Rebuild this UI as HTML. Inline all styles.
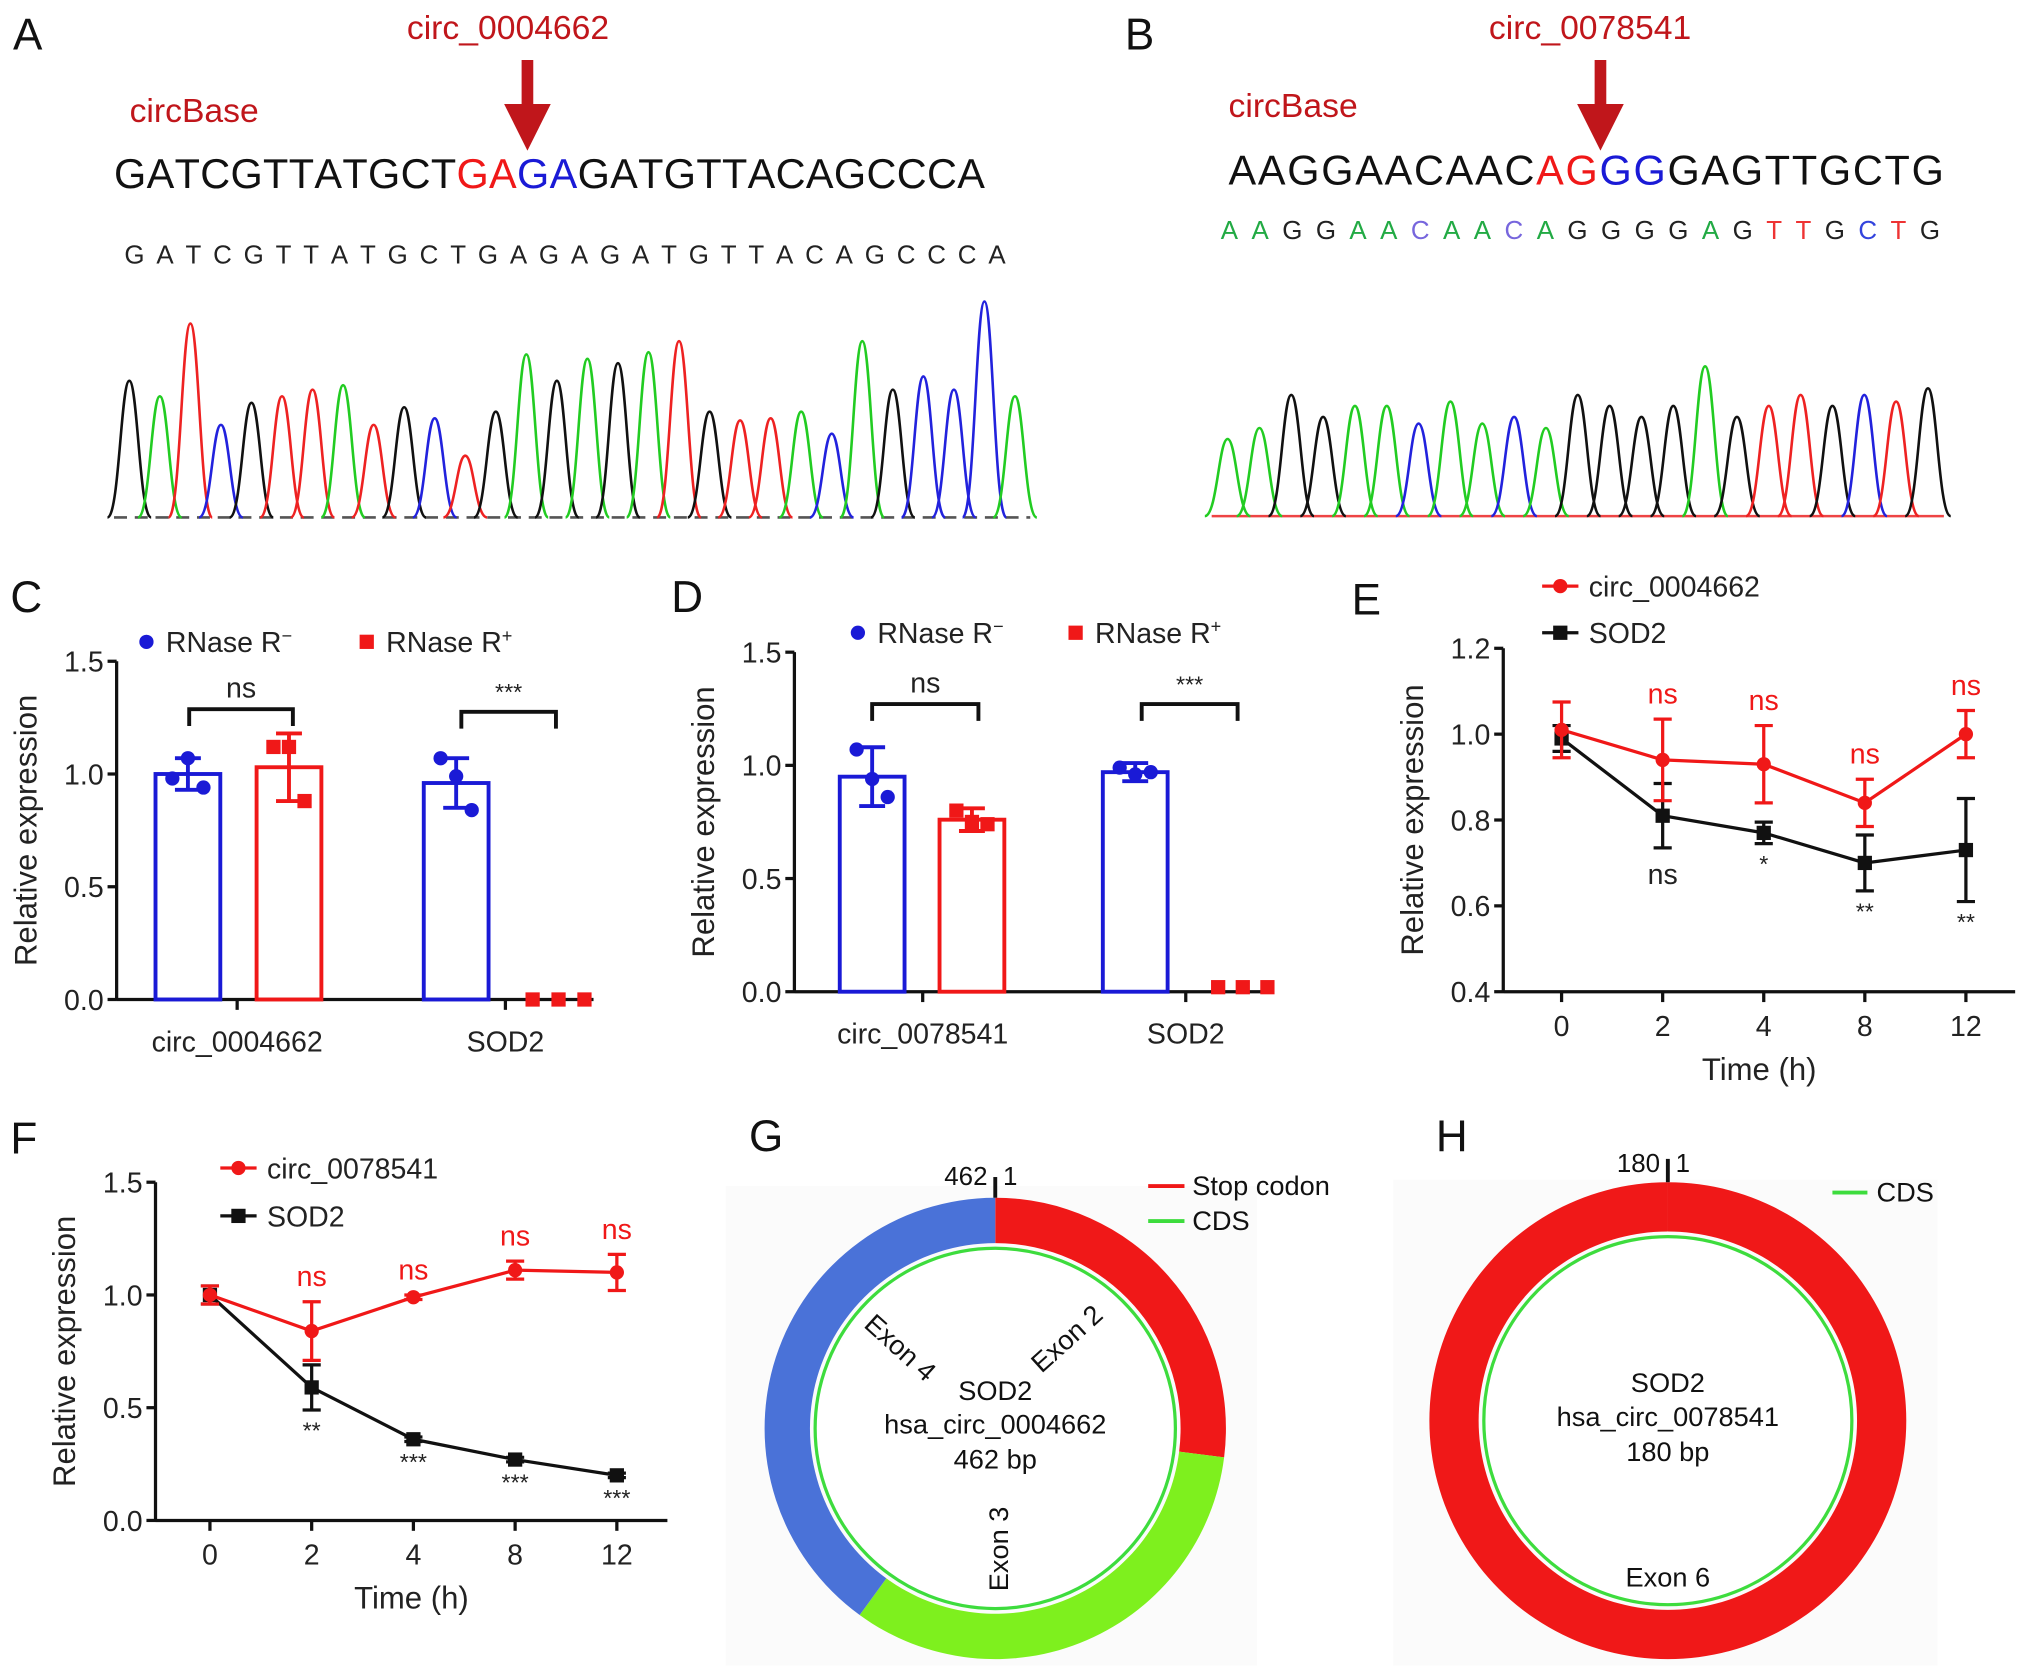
<!DOCTYPE html>
<html><head><meta charset="utf-8"><style>
html,body{margin:0;padding:0;background:#fff}
svg{display:block;font-family:"Liberation Sans",Arial,sans-serif}
</style></head><body>
<svg id="fig" width="2032" height="1675" viewBox="0 0 1568 1292" xmlns="http://www.w3.org/2000/svg">
<defs><marker id="ah" markerWidth="4" markerHeight="4" refX="2" refY="2" orient="auto"><path d="M0,0 L4,2 L0,4 Z" fill="#c0161b"/></marker></defs>
<g id="root"></g>
</svg>
<script>
// ---------- data ----------
const seqA = "GATCGTTATGCTGAGAGATGTTACAGCCCA";
const peakA = [0.62,0.55,0.88,0.42,0.52,0.55,0.58,0.6,0.42,0.5,0.45,0.28,0.48,0.74,0.62,0.72,0.7,0.75,0.8,0.48,0.44,0.45,0.48,0.38,0.8,0.58,0.64,0.58,0.98,0.55];
const seqB = "AAGGAACAACAGGGGAGTTGCTG";
const peakB = [0.35,0.4,0.55,0.45,0.5,0.5,0.42,0.52,0.42,0.45,0.4,0.55,0.5,0.45,0.5,0.68,0.45,0.5,0.55,0.5,0.55,0.52,0.58];

const catsC = ["circ_0004662","SOD2"];
const cMinus = [1.0,0.96];
const cMinusSd = [0.07,0.11];
const cMinusPts = [[0.98,1.07,0.94],[1.07,0.99,0.84]];
const cPlus = [1.03,0.0];
const cPlusSd = [0.15,0.0];
const cPlusPts = [[1.12,1.12,0.88],[0,0,0]];

const catsD = ["circ_0078541","SOD2"];
const dMinus = [0.95,0.97];
const dMinusSd = [0.13,0.04];
const dMinusPts = [[1.07,0.94,0.86],[0.99,0.96,0.97]];
const dPlus = [0.76,0.02];
const dPlusSd = [0.05,0.0];
const dPlusPts = [[0.8,0.75,0.74],[0.02,0.02,0.02]];

const timeLabels = ["0","2","4","8","12"];
const eCirc = [1.01,0.94,0.93,0.84,1.0];
const eCircSd = [0.065,0.095,0.09,0.055,0.055];
const eSod = [0.99,0.81,0.77,0.70,0.73];
const eSodSd = [0.03,0.075,0.025,0.065,0.12];
const eCircSig = ["","ns","ns","ns","ns"];
const eSodSig = ["","ns","*","**","**"];

const fCirc = [1.0,0.84,0.99,1.11,1.10];
const fCircSd = [0.04,0.13,0.01,0.04,0.08];
const fSod = [1.0,0.59,0.36,0.27,0.20];
const fSodSd = [0.04,0.1,0.01,0.01,0.01];
const fCircSig = ["","ns","ns","ns","ns"];
const fSodSig = ["","**","***","***","***"];

const gSegs = [0.27,0.33,0.40]; // red, green, blue fractions
// ---------- helpers ----------
const NS="http://www.w3.org/2000/svg";
const root=document.getElementById('root');
function el(tag,attrs,parent,txt){const e=document.createElementNS(NS,tag);for(const k in attrs)e.setAttribute(k,attrs[k]);if(txt!==undefined)e.textContent=txt;(parent||root).appendChild(e);return e;}
function txt(x,y,s,size,fill,anchor,parent,extra){const t=el('text',Object.assign({x:x,y:y,'font-size':size,fill:fill||'#111','text-anchor':anchor||'start'},extra||{}),parent,s);return t;}
const BLUE="#1a1ad6",RED="#f01818",DRED="#c0161b";

[["A",10,38],["B",868,38],["C",8,472],["D",518,472],["E",1043,474],["F",8,890],["G",578,888],["H",1108,888]].forEach(p=>{
 const t=txt(p[1],p[2],p[0],34,'#111','start');
 
 
});

// ---------- sequencing panels ----------
function seqPanel(o){
 const g=el('g',{},root);
 
 
 txt(o.titleX,o.titleY,o.title,26,DRED,'middle',g);
 el('line',{x1:o.arrowX,y1:o.titleY+16,x2:o.arrowX,y2:o.titleY+68,stroke:DRED,'stroke-width':9,'marker-end':'url(#ah)'},g);
 txt(o.cbX,o.cbY,"circBase",26,DRED,'start',g);
 const t=el('text',{x:o.sx,y:o.sy,'font-size':32,fill:'#111',textLength:o.sw,lengthAdjust:'spacing'},g);
 for(let i=0;i<o.seq.length;i++){const c=o.colors[i]||'#111';el('tspan',{fill:c},t,o.seq[i]);}
 const t2=el('text',{x:o.s2x,y:o.s2y,'font-size':20,textLength:o.s2w,lengthAdjust:'spacing'},g);
 for(let i=0;i<o.seq.length;i++){el('tspan',{fill:o.colors2?o.colors2[i]:'#222'},t2,o.seq[i]);}
 const cmap={A:"#22cc22",C:"#2222dd",G:"#111111",T:"#ee2222"};
 const n=o.seq.length, step=(o.cx1-o.cx0)/n;
 el('line',{x1:o.cx0,y1:o.base,x2:o.cx1,y2:o.base,stroke:o.baseColor,'stroke-width':2,'stroke-dasharray':o.dash||''},g);
 for(let i=0;i<n;i++){
  const cx=o.cx0+step*(i+0.5), h=o.peaks[i]*o.hmax, w=step*0.55;
  const p=`M${cx-w*1.3},${o.base} C${cx-w*0.6},${o.base} ${cx-w*0.5},${o.base-h} ${cx},${o.base-h} C${cx+w*0.5},${o.base-h} ${cx+w*0.6},${o.base} ${cx+w*1.3},${o.base}`;
  const pe=el('path',{d:p,fill:'none',stroke:cmap[o.seq[i]],'stroke-width':2},g);
  
  
 }
}
const colA=[];for(let i=0;i<seqA.length;i++)colA.push(i==12||i==13?RED:(i==14||i==15?BLUE:'#111'));
seqPanel({id:'a',title:"circ_0004662",titleX:392,titleY:30,arrowX:407,cbX:100,cbY:94,seq:seqA,colors:colA,sx:88,sy:145,sw:672,s2x:96,s2y:203,s2w:680,peaks:peakA,cx0:88,cx1:795,base:399,hmax:170,baseColor:'#555',dash:'10,6'});
const colB=[];for(let i=0;i<seqB.length;i++)colB.push(i==10||i==11?RED:(i==12||i==13?BLUE:'#111'));
const colB2=["#22aa44","#22aa44","#222","#222","#22aa44","#22aa44","#7766dd","#22aa44","#22aa44","#7766dd","#22aa44","#222","#222","#222","#222","#22aa44","#222","#ee3333","#ee3333","#222","#3344dd","#ee3333","#222"];
seqPanel({id:'b',title:"circ_0078541",titleX:1227,titleY:30,arrowX:1235,cbX:948,cbY:90,seq:seqB,colors:colB,sx:948,sy:142,sw:552,s2x:942,s2y:184,s2w:555,colors2:colB2,peaks:peakB,cx0:935,cx1:1500,base:398,hmax:170,baseColor:'#e44'});

// ---------- bar charts ----------
function barChart(o){
 const g=el('g',{},root);
 
 
 const y=v=>o.y0-(v/1.5)*(o.y0-o.y15);
 el('line',{x1:o.ax,y1:o.y15,x2:o.ax,y2:o.y0+1,stroke:'#111','stroke-width':2.5},g);
 el('line',{x1:o.ax,y1:o.y0,x2:o.ax1,y2:o.y0,stroke:'#111','stroke-width':2.5},g);
 [0,0.5,1.0,1.5].forEach(v=>{
  el('line',{x1:o.ax-7,y1:y(v),x2:o.ax,y2:y(v),stroke:'#111','stroke-width':2.5},g);
  txt(o.ax-10,y(v)+8,v.toFixed(1),22,'#222','end',g);
 });
 const yt=txt(0,0,"Relative expression",24,'#222','middle',g,{transform:`translate(${o.ax-62},${(o.y0+o.y15)/2}) rotate(-90)`});
 
 o.cats.forEach((c,i)=>{
  const cx=o.catX[i];
  el('line',{x1:cx,y1:o.y0,x2:cx,y2:o.y0+8,stroke:'#111','stroke-width':2.5},g);
  const lt=txt(cx,o.y0+40,c,22,'#222','middle',g);
  
  const mids=[cx-o.mOff, cx+o.pOff];
  [[o.minus,o.minusSd,o.minusPts,BLUE,'circle'],[o.plus,o.plusSd,o.plusPts,RED,'rect']].forEach((s,k)=>{
   const v=s[0][i], sd=s[1][i], mid=mids[k], x0=mid-o.bw/2;
   if(v>0.05){
    const r=el('rect',{x:x0,y:y(v),width:o.bw,height:o.y0-y(v),fill:'none',stroke:s[3],'stroke-width':3},g);
    
    el('line',{x1:mid,y1:y(v+sd),x2:mid,y2:y(v-sd),stroke:s[3],'stroke-width':3},g);
    el('line',{x1:mid-10,y1:y(v+sd),x2:mid+10,y2:y(v+sd),stroke:s[3],'stroke-width':3},g);
    el('line',{x1:mid-10,y1:y(v-sd),x2:mid+10,y2:y(v-sd),stroke:s[3],'stroke-width':3},g);
    s[2][i].forEach((p,j)=>{const px=mid+(j-1)*12;
     const m=s[4]=='circle'?el('circle',{cx:px,cy:y(p),r:5.5,fill:s[3]},g):el('rect',{x:px-5.5,y:y(p)-5.5,width:11,height:11,fill:s[3]},g);
     });
   } else {
    s[2][i].forEach((p,j)=>{const px=o.zeroX[j];
     const m=el('rect',{x:px-5.5,y:y(p)-5.5,width:11,height:11,fill:s[3]},g);
     });
   }
  });
  const b=o.brackets[i];
  el('path',{d:`M${b[0]},${b[2]+13} V${b[2]} H${b[1]} V${b[2]+13}`,fill:'none',stroke:'#111','stroke-width':3},g);
  txt((b[0]+b[1])/2,b[2]-9,b[3],b[3]=='ns'?22:18,'#222','middle',g);
 });
 const lc=el('circle',{cx:o.leg[0],cy:o.leg[2]-8,r:5.5,fill:BLUE},g);
 
 const l1=txt(o.leg[0]+15,o.leg[2],"RNase R",22,'#222','start',g);el('tspan',{dy:-8,'font-size':14},l1,"−");
 
 el('rect',{x:o.leg[1]-5.5,y:o.leg[2]-13.5,width:11,height:11,fill:RED},g);
 const l2=txt(o.leg[1]+15,o.leg[2],"RNase R",22,'#222','start',g);el('tspan',{dy:-8,'font-size':14},l2,"+");
 
}
barChart({id:'c',ax:90,ax1:458,y0:771,y15:510,cats:catsC,catX:[183,390],bw:50,mOff:38,pOff:40,minus:cMinus,minusSd:cMinusSd,minusPts:cMinusPts,plus:cPlus,plusSd:cPlusSd,plusPts:cPlusPts,zeroX:[411,431,451],brackets:[[146,226,547,'ns'],[356,429,549,'***']],leg:[113,283,503]});
barChart({id:'d',ax:613,ax1:983,y0:765,y15:503,cats:catsD,catX:[712,915],bw:50,mOff:39,pOff:38,minus:dMinus,minusSd:dMinusSd,minusPts:dMinusPts,plus:dPlus,plusSd:dPlusSd,plusPts:dPlusPts,zeroX:[940,959,978],brackets:[[673,755,543,'ns'],[881,955,543,'***']],leg:[662,830,496]});

// ---------- line charts ----------
function lineChart(o){
 const g=el('g',{},root);
 
 
 const y=v=>o.y0-(v-o.ymin)/(o.ymax-o.ymin)*(o.y0-o.ytop);
 const x=i=>o.xs0+i*o.xstep;
 el('line',{x1:o.ax,y1:o.ytop,x2:o.ax,y2:o.y0+1,stroke:'#111','stroke-width':2.5},g);
 el('line',{x1:o.ax,y1:o.y0,x2:o.ax1,y2:o.y0,stroke:'#111','stroke-width':2.5},g);
 o.yticks.forEach(v=>{
  el('line',{x1:o.ax-7,y1:y(v),x2:o.ax,y2:y(v),stroke:'#111','stroke-width':2.5},g);
  txt(o.ax-10,y(v)+8,v.toFixed(1),22,'#222','end',g);
 });
 timeLabels.forEach((l,i)=>{
  el('line',{x1:x(i),y1:o.y0,x2:x(i),y2:o.y0+8,stroke:'#111','stroke-width':2.5},g);
  txt(x(i),o.y0+34,l,22,'#222','middle',g);
 });
 const xt=txt((o.ax+o.ax1)/2,o.y0+68,"Time (h)",24,'#222','middle',g);
 
 const yt=txt(0,0,"Relative expression",24,'#222','middle',g,{transform:`translate(${o.ax-62},${(o.y0+o.ytop)/2}) rotate(-90)`});
 
 [[o.sod,o.sodSd,'#111','rect',o.sodSig,1],[o.circ,o.circSd,RED,'circle',o.circSig,-1]].forEach(s=>{
  const pts=s[0].map((v,i)=>x(i)+','+y(v)).join(' ');
  const pl=el('polyline',{points:pts,fill:'none',stroke:s[2],'stroke-width':2.5},g);
  
  s[0].forEach((v,i)=>{
   const sd=s[1][i];
   el('line',{x1:x(i),y1:y(v+sd),x2:x(i),y2:y(v-sd),stroke:s[2],'stroke-width':2.5},g);
   el('line',{x1:x(i)-7,y1:y(v+sd),x2:x(i)+7,y2:y(v+sd),stroke:s[2],'stroke-width':2.5},g);
   el('line',{x1:x(i)-7,y1:y(v-sd),x2:x(i)+7,y2:y(v-sd),stroke:s[2],'stroke-width':2.5},g);
   const m=s[3]=='circle'?el('circle',{cx:x(i),cy:y(v),r:5.5,fill:s[2]},g):el('rect',{x:x(i)-5.5,y:y(v)-5.5,width:11,height:11,fill:s[2]},g);
   
   const lab=s[4][i];
   if(lab){
    const ty=s[5]<0? y(v+sd)-12 : y(v-sd)+(lab=='ns'?28:22);
    txt(x(i),ty,lab,lab=='ns'?22:18,s[2]==RED?RED:'#222','middle',g);
   }
  });
 });
 [[o.leg[1],RED,'circle',o.leg[3]],[o.leg[2],'#111','rect','SOD2']].forEach(l=>{
  el('line',{x1:o.leg[0],y1:l[0],x2:o.leg[0]+28,y2:l[0],stroke:l[1],'stroke-width':2.5},g);
  if(l[2]=='circle')el('circle',{cx:o.leg[0]+14,cy:l[0],r:5.5,fill:l[1]},g);else el('rect',{x:o.leg[0]+8.5,y:l[0]-5.5,width:11,height:11,fill:l[1]},g);
  const lt=txt(o.leg[0]+36,l[0]+8,l[3],22,'#222','start',g);
  
 });
}
lineChart({id:'e',ax:1160,ax1:1555,y0:765,ytop:500,ymin:0.4,ymax:1.2,yticks:[0.4,0.6,0.8,1.0,1.2],xs0:1205,xstep:78,circ:eCirc,circSd:eCircSd,sod:eSod,sodSd:eSodSd,circSig:eCircSig,sodSig:eSodSig,leg:[1190,452,488,'circ_0004662']});
lineChart({id:'f',ax:120,ax1:515,y0:1173,ytop:912,ymin:0,ymax:1.5,yticks:[0,0.5,1.0,1.5],xs0:162,xstep:78.5,circ:fCirc,circSd:fCircSd,sod:fSod,sodSd:fSodSd,circSig:fCircSig,sodSig:fSodSig,leg:[170,901,938,'circ_0078541']});

// ---------- circle maps ----------
function arcPath(cx,cy,r1,r2,a0,a1){
 const p=(r,a)=>[cx+r*Math.sin(a),cy-r*Math.cos(a)];
 const large=(a1-a0)>Math.PI?1:0;
 const [x1,y1]=p(r2,a0),[x2,y2]=p(r2,a1),[x3,y3]=p(r1,a1),[x4,y4]=p(r1,a0);
 return `M${x1},${y1} A${r2},${r2} 0 ${large} 1 ${x2},${y2} L${x3},${y3} A${r1},${r1} 0 ${large} 0 ${x4},${y4} Z`;
}
(function(){
 const g=el('g',{},root);
 
 el('rect',{x:560,y:915,width:410,height:370,fill:'#fbfbfb'},g);
 const cx=768,cy=1102,r1=143,r2=178;
 const cols=[RED,"#7ef01e","#4a72d8"];let a=0;
 gSegs.forEach((f,i)=>{const a1=a+f*2*Math.PI;const s=el('path',{d:arcPath(cx,cy,r1,r2,a,Math.min(a1,2*Math.PI-0.0001)),fill:cols[i]},g);
  a=a1;});
 el('circle',{cx:cx,cy:cy,r:139,fill:'#fff',stroke:'#3ddc3d','stroke-width':2.5},g);
 el('line',{x1:cx,y1:cy-r2,x2:cx,y2:cy-r2-16,stroke:'#111','stroke-width':3},g);
 txt(cx-6,cy-r2-10,"462",20,'#111','end',g);txt(cx+6,cy-r2-10,"1",20,'#111','start',g);
 txt(cx,1080,"SOD2",21,'#111','middle',g);
 txt(cx,1106,"hsa_circ_0004662",21,'#111','middle',g);
 txt(cx,1133,"462 bp",21,'#111','middle',g);
 txt(0,0,"Exon 4",21,'#111','middle',g,{transform:'translate(690,1045) rotate(42)'});
 txt(0,0,"Exon 2",21,'#111','middle',g,{transform:'translate(828,1038) rotate(-42)'});
 txt(0,0,"Exon 3",21,'#111','middle',g,{transform:'translate(778,1195) rotate(-90)'});
 el('line',{x1:886,y1:915,x2:914,y2:915,stroke:RED,'stroke-width':3},g);
 txt(920,922,"Stop codon",21,'#111','start',g);
 el('line',{x1:886,y1:942,x2:914,y2:942,stroke:'#3ddc3d','stroke-width':3},g);
 txt(920,949,"CDS",21,'#111','start',g);
})();
(function(){
 const g=el('g',{},root);
 
 el('rect',{x:1075,y:910,width:420,height:375,fill:'#fbfbfb'},g);
 const cx=1287,cy=1096;
 const ring=el('path',{d:arcPath(cx,cy,146,184,0,2*Math.PI-0.0001),fill:RED},g);
 
 el('circle',{cx:cx,cy:cy,r:142,fill:'#fff',stroke:'#3ddc3d','stroke-width':2.5},g);
 el('line',{x1:cx,y1:cy-184,x2:cx,y2:cy-202,stroke:'#111','stroke-width':3},g);
 txt(cx-6,cy-192,"180",20,'#111','end',g);txt(cx+6,cy-192,"1",20,'#111','start',g);
 txt(cx,1074,"SOD2",21,'#111','middle',g);
 txt(cx,1100,"hsa_circ_0078541",21,'#111','middle',g);
 txt(cx,1127,"180 bp",21,'#111','middle',g);
 txt(cx,1224,"Exon 6",21,'#111','middle',g);
 el('line',{x1:1414,y1:920,x2:1441,y2:920,stroke:'#3ddc3d','stroke-width':3},g);
 txt(1448,927,"CDS",21,'#111','start',g);
})();
</script>
</body></html>
